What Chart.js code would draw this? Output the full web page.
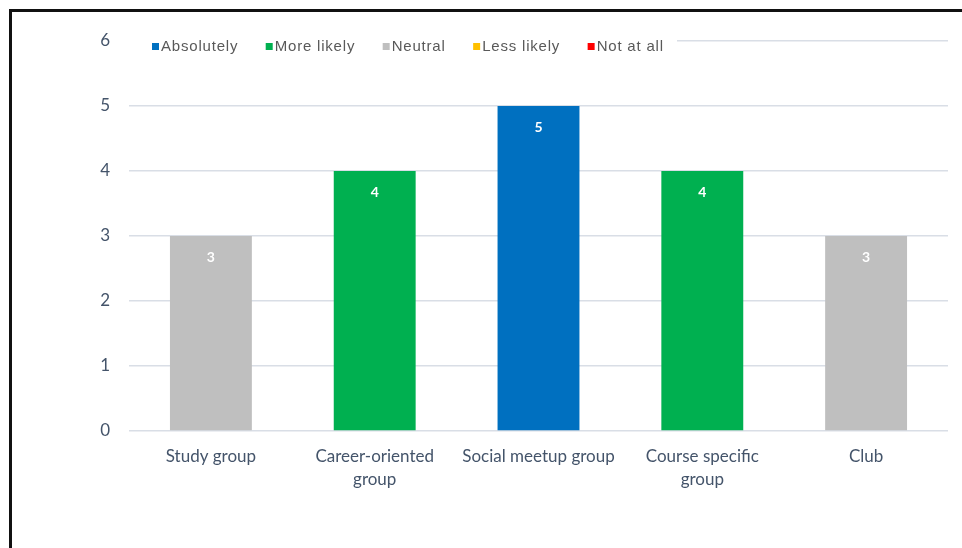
<!DOCTYPE html>
<html>
<head>
<meta charset="utf-8">
<script src="https://cdn.jsdelivr.net/npm/chart.js@4/dist/chart.umd.min.js"></script>
<style>
  html, body { margin: 0; padding: 0; background: #fff; }
  #wrap { position: relative; width: 962px; height: 548px; overflow: hidden; }
  #frame {
    position: absolute; left: 9px; top: 9px; right: -3px; bottom: -3px;
    border-left: 3px solid #111; border-top: 3px solid #111;
    pointer-events: none;
  }
</style>
</head>
<body>
<div id="wrap">
  <canvas id="chart" width="962" height="548"></canvas>
  <div id="frame"></div>
</div>
<script>
const categories = [
  'Study group',
  ['Career-oriented', 'group'],
  'Social meetup group',
  ['Course specific', 'group'],
  'Club'
];
const values = [3, 4, 5, 4, 3];
const ratings = ['Neutral', 'More likely', 'Absolutely', 'More likely', 'Neutral'];
const responseLevels = ['Absolutely', 'More likely', 'Neutral', 'Less likely', 'Not at all'];
const levelColors = ['#0070C0', '#00B050', '#BFBFBF', '#FFC000', '#FF0000'];
const yTicks = [0, 1, 2, 3, 4, 5, 6];

const axisText = '#44546A';
const gridColor = '#D9DEE6';

// one dataset per response level, each bar lands in the level it was rated
const datasets = responseLevels.map((level, i) => ({
  label: level,
  data: values.map((v, j) => ratings[j] === level ? v : null),
  backgroundColor: levelColors[i],
  barPercentage: 0.5,
  categoryPercentage: 1
}));

const valueLabels = {
  id: 'valueLabels',
  afterDatasetsDraw(chart) {
    const ctx = chart.ctx;
    ctx.save();
    ctx.fillStyle = '#fff';
    ctx.font = 'bold 14px Lato';
    ctx.textAlign = 'center';
    ctx.textBaseline = 'middle';
    chart.data.datasets.forEach((ds, i) => {
      chart.getDatasetMeta(i).data.forEach((bar, j) => {
        if (ds.data[j] == null) return;
        ctx.fillText(String(ds.data[j]), bar.x, bar.y + 21);
      });
    });
    ctx.restore();
  }
};

// legend sits inside the plot over the top gridline, on a white patch
const insetLegend = {
  id: 'insetLegend',
  afterDraw(chart) {
    const ctx = chart.ctx;
    const area = chart.chartArea;
    const cy = area.top + 6;
    ctx.save();
    ctx.fillStyle = '#fff';
    ctx.fillRect(area.left, cy - 12, 548, 24);
    ctx.font = '15px "Liberation Sans", Arial';
    ctx.letterSpacing = '0.8px';
    ctx.textBaseline = 'middle';
    let x = area.left + 23;
    responseLevels.forEach((level, i) => {
      ctx.fillStyle = levelColors[i];
      ctx.fillRect(x, cy - 4, 7, 7);
      ctx.fillStyle = '#595959';
      ctx.fillText(level, x + 9, cy);
      x += 9 + ctx.measureText(level).width + 27.5;
    });
    ctx.restore();
  }
};

new Chart(document.getElementById('chart'), {
  type: 'bar',
  data: { labels: categories, datasets },
  options: {
    responsive: false,
    animation: false,
    devicePixelRatio: 1,
    layout: { padding: { left: 0, top: 41, right: 14, bottom: 0 } },
    plugins: {
      legend: { display: false },
      tooltip: { enabled: false }
    },
    scales: {
      x: {
        stacked: true,
        grid: { display: false },
        border: { display: false },
        ticks: {
          color: axisText,
          font: { family: 'Lato', size: 17, lineHeight: 1.35 },
          padding: 6,
          maxRotation: 0,
          autoSkip: false
        },
        afterFit(scale) { scale.height = 117; }
      },
      y: {
        stacked: true,
        min: 0,
        max: 6,
        afterBuildTicks(scale) { scale.ticks = yTicks.map(v => ({ value: v })); },
        grid: { color: gridColor, lineWidth: 1.5, drawTicks: false },
        border: { display: false },
        ticks: {
          color: axisText,
          font: { family: 'Lato', size: 17 },
          padding: 19
        },
        afterFit(scale) { scale.width = 129; }
      }
    }
  },
  plugins: [valueLabels, insetLegend]
});
</script>
</body>
</html>
